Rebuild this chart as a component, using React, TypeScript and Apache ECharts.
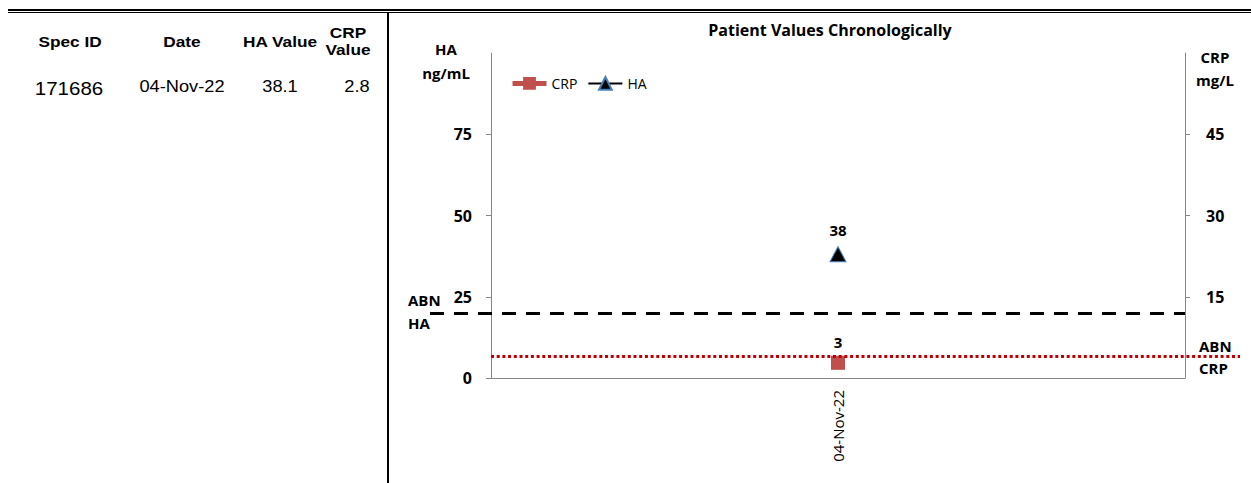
import React, { useEffect, useRef } from 'react';
import * as echarts from 'echarts';

const categories = ['04-Nov-22'];
const haValues = [38.1];
const crpValues = [2.8];
const haAxis = { min: 0, max: 100, interval: 25 };
const crpAxis = { min: 0, max: 60, interval: 15 };
const abnHA = 20;
const abnCRP = 4;
const tableHeaders = ['Spec ID', 'Date', 'HA Value', 'CRP\nValue'];
const tableRow = ['171686', '04-Nov-22', '38.1', '2.8'];

const headerX = [70, 182, 280, 348];
const rowX = [69, 182, 280, 357];
const CHART_FONT = '"Open Sans"';
const TABLE_FONT = '"Liberation Sans", Arial, sans-serif';

export default function App() {
  const ref = useRef<HTMLDivElement>(null);
  useEffect(() => {
    document.body.style.margin = '0';
    const chart = echarts.init(ref.current!, null, { renderer: 'svg' });
    const graphics: any[] = [
      { type: 'rect', shape: { x: 8, y: 9, width: 1243, height: 2 }, style: { fill: '#000' } },
      { type: 'rect', shape: { x: 8, y: 12, width: 1243, height: 1 }, style: { fill: '#000' } },
      { type: 'rect', shape: { x: 387, y: 13, width: 2, height: 470 }, style: { fill: '#000' } },
    ];
    tableHeaders.forEach((h, i) => {
      graphics.push({
        type: 'text', x: headerX[i], y: 41, scaleX: 1.15,
        style: { text: h, align: 'center', verticalAlign: 'middle', font: `bold 15px ${TABLE_FONT}`, fill: '#000', lineHeight: 17 },
      });
    });
    tableRow.forEach((v, i) => {
      graphics.push({
        type: 'text', x: rowX[i], y: i === 0 ? 89 : 86, scaleX: 1.14,
        style: { text: v, align: 'center', verticalAlign: 'middle', font: `${i === 0 ? 18 : 16}px ${TABLE_FONT}`, fill: '#000' },
      });
    });
    graphics.push(
      { type: 'text', x: 446, y: 61, style: { text: 'HA\nng/mL', align: 'center', verticalAlign: 'middle', font: `bold 15px ${CHART_FONT}`, fill: '#000', lineHeight: 24 } },
      { type: 'text', x: 1215, y: 68, style: { text: 'CRP\nmg/L', align: 'center', verticalAlign: 'middle', font: `bold 15px ${CHART_FONT}`, fill: '#000', lineHeight: 23 } },
      { type: 'text', x: 408, y: 311, style: { text: 'ABN\nHA', align: 'left', verticalAlign: 'middle', font: `bold 15px ${CHART_FONT}`, fill: '#000', lineHeight: 23 } },
      { type: 'text', x: 1199, y: 357, style: { text: 'ABN\nCRP', align: 'left', verticalAlign: 'middle', font: `bold 15px ${CHART_FONT}`, fill: '#000', lineHeight: 22 } },
    );

    const axisCommon = {
      type: 'value',
      axisLine: { show: true, lineStyle: { color: '#868686', width: 1 } },
      axisTick: { show: true, length: 5, lineStyle: { color: '#868686' } },
      splitLine: { show: false },
    };

    const option: any = {
      animation: false,
      textStyle: { fontFamily: CHART_FONT },
      title: {
        text: 'Patient Values Chronologically', left: 825, top: 17, textAlign: 'center',
        textStyle: { fontSize: 16, fontWeight: 'bold', color: '#000', fontFamily: CHART_FONT },
      },
      legend: {
        data: [
          { name: 'CRP', lineStyle: { width: 5, color: '#c0504d' } },
          { name: 'HA', lineStyle: { width: 2, color: '#000' } },
        ],
        left: 510, top: 76, padding: 0, itemWidth: 34, itemHeight: 16, itemGap: 10,
        textStyle: { fontSize: 14, color: '#000', fontFamily: CHART_FONT },
      },
      grid: { left: 491, right: 66, top: 53, bottom: 105 },
      xAxis: {
        type: 'category', data: categories,
        axisLine: { lineStyle: { color: '#868686' } },
        axisTick: { show: false },
        axisLabel: { rotate: 90, fontSize: 15, color: '#000', margin: 12, fontFamily: CHART_FONT },
      },
      yAxis: [
        {
          ...axisCommon, position: 'left', ...haAxis,
          axisLabel: { showMaxLabel: false, fontWeight: 'bold', fontSize: 16, color: '#000', margin: 19, fontFamily: CHART_FONT },
        },
        {
          ...axisCommon, position: 'right', ...crpAxis,
          axisLabel: { showMaxLabel: false, showMinLabel: false, fontWeight: 'bold', fontSize: 16, color: '#000', margin: 21, fontFamily: CHART_FONT },
        },
      ],
      series: [
        {
          name: 'CRP', type: 'line', yAxisIndex: 1, data: crpValues,
          symbol: 'rect', symbolSize: 14,
          itemStyle: { color: '#c0504d' },
          lineStyle: { color: '#c0504d', width: 4 },
          label: { show: true, position: 'top', distance: 6, formatter: (p: any) => String(Math.round(p.value)), fontWeight: 'bold', fontSize: 15, color: '#000', fontFamily: CHART_FONT },
          markLine: {
            silent: true, symbol: 'none', label: { show: false },
            lineStyle: { color: '#c00000', type: [3, 2.7], width: 3 },
            data: [[{ x: 491, yAxis: abnCRP }, { x: 1240, yAxis: abnCRP }]],
          },
          z: 3,
        },
        {
          name: 'HA', type: 'line', yAxisIndex: 0, data: haValues,
          symbol: 'triangle', symbolSize: [16, 15],
          itemStyle: { color: '#000', borderColor: '#4a7ebb', borderWidth: 1 },
          lineStyle: { color: '#000', width: 2 },
          label: { show: true, position: 'top', distance: 9, formatter: (p: any) => String(Math.round(p.value)), fontWeight: 'bold', fontSize: 15, color: '#000', fontFamily: CHART_FONT },
          markLine: {
            silent: true, symbol: 'none', label: { show: false },
            lineStyle: { color: '#000', type: [14, 10], width: 3 },
            data: [[{ x: 430, yAxis: abnHA }, { x: 1185, yAxis: abnHA }]],
          },
        },
      ],
      graphic: graphics,
    };
    chart.setOption(option);
    return () => chart.dispose();
  }, []);
  return <div ref={ref} style={{ width: 1251, height: 483 }} />;
}
